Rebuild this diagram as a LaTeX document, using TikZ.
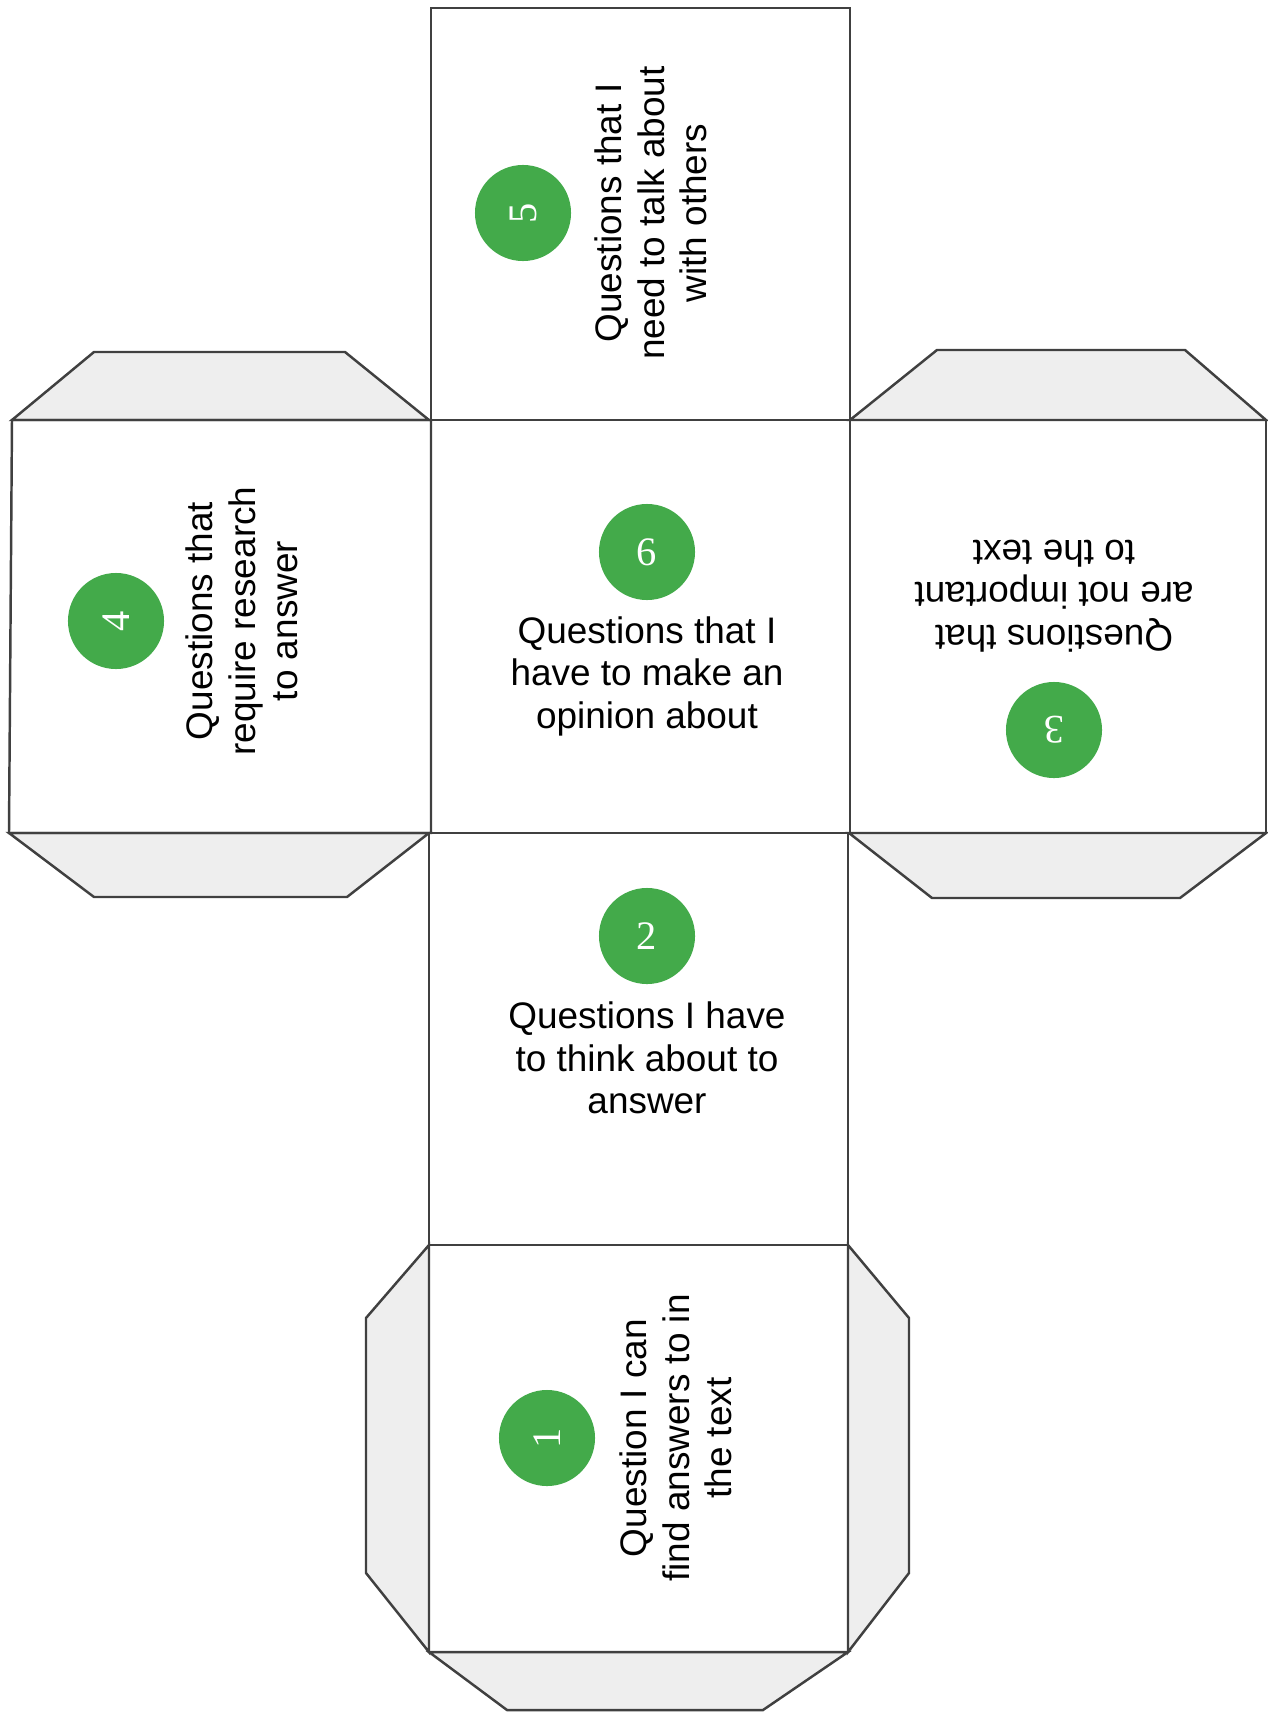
\documentclass[tikz,border=0pt]{standalone}
\usepackage{fontspec}
\setmainfont{Liberation Sans}
\newfontfamily\numfont{Liberation Serif}
\definecolor{dicegreen}{RGB}{67,170,74}
\definecolor{tabgray}{RGB}{238,238,238}
\definecolor{edgegray}{RGB}{64,64,64}
\tikzset{
	face/.style={draw=edgegray, line width=0.7pt},
	flap/.style={draw=edgegray, fill=tabgray, line width=0.7pt},
	numdot/.style={circle, fill=dicegreen, minimum size=0.96cm, inner sep=0pt, text=white, font=\numfont\fontsize{11.5}{12}\selectfont},
	facetext/.style={align=center, inner sep=0pt, font=\fontsize{10.5}{12.1}\selectfont}
}

\begin{document}
\begin{tikzpicture}[x=0.01cm, y=-0.01cm]
	\useasboundingbox (0,0) rectangle (1268,1712);
	\clip (0,0) rectangle (1268,1712);
	\fill [white] (0,0) rectangle (1268,1712);

	\path [flap] (12,420) -- (94,352) -- (345,352) -- (429,420) -- cycle;
	\path [flap] (9,833) -- (94,897) -- (347,897) -- (429,833) -- cycle;
	\path [flap] (850,420) -- (937,350) -- (1185,350) -- (1266,420) -- cycle;
	\path [flap] (849,833) -- (932,898) -- (1180,898) -- (1266,833) -- cycle;
	\path [flap] (429,1245) -- (366,1318) -- (366,1573) -- (429,1652) -- cycle;
	\path [flap] (848,1245) -- (909,1318) -- (909,1573) -- (848,1652) -- cycle;
	\path [flap] (429,1652) -- (507,1710) -- (763,1710) -- (848,1652) -- cycle;

	\draw [face] (431,8) rectangle (850,420);
	\draw [face] (12,420) -- (431,420) -- (431,833) -- (9,833) -- cycle;
	\draw [face] (431,420) rectangle (850,833);
	\draw [face] (850,420) rectangle (1266,833);
	\draw [face] (429,833) rectangle (848,1245);
	\draw [face] (429,1245) rectangle (848,1652);

	\node [numdot, rotate=90] (n5) at (523,213) {5};
	\node [facetext, rotate=90] (q5) at (651,213) {Questions that I\\need to talk about\\with others};
	\node [numdot, rotate=90] (n4) at (116,621) {4};
	\node [facetext, rotate=90] (q4) at (242,621) {Questions that\\require research\\to answer};
	\node [numdot] (n6) at (647,552) {6};
	\node [facetext] (q6) at (647,676) {Questions that I\\have to make an\\opinion about};
	\node [numdot, rotate=180] (n3) at (1054,730) {3};
	\node [facetext, rotate=180] (q3) at (1054,596) {Questions that\\are not important\\to the text};
	\node [numdot] (n2) at (647,936) {2};
	\node [facetext] (q2) at (647,1058) {Questions I have\\to think about to\\answer};
	\node [numdot, rotate=90] (n1) at (547,1438) {1};
	\node [facetext, rotate=90] (q1) at (676,1438) {Question I can\\find answers to in\\the text};
\end{tikzpicture}
\end{document}
